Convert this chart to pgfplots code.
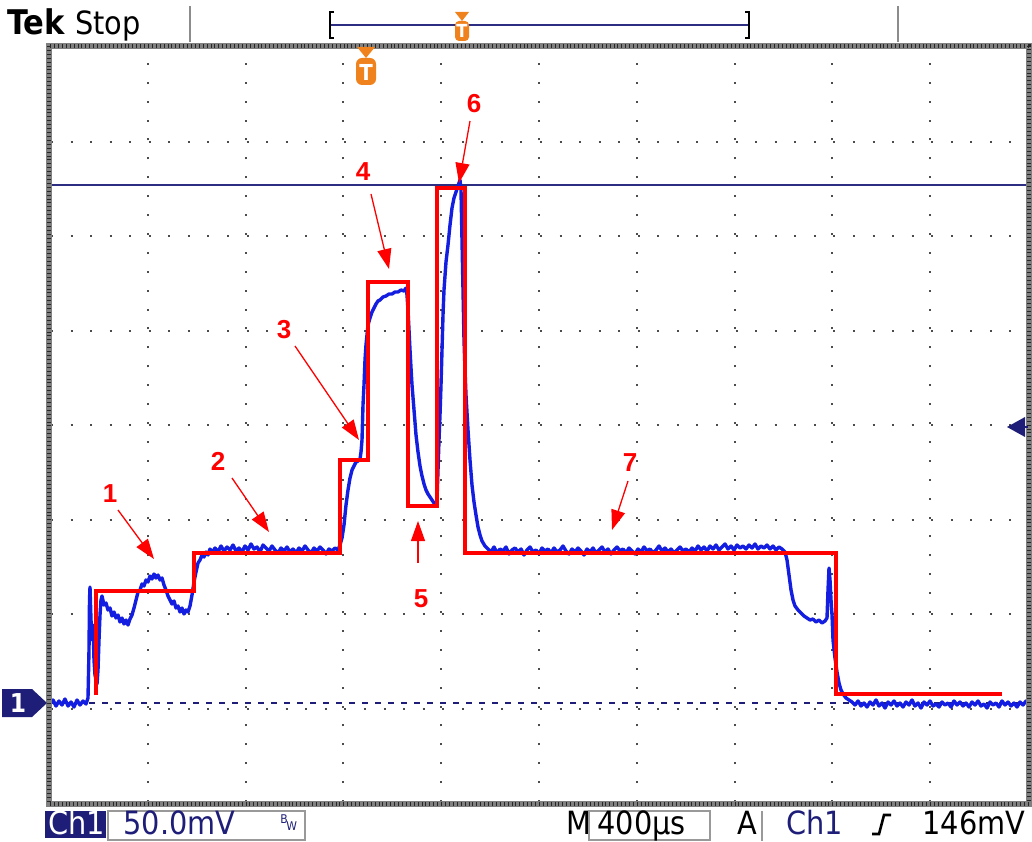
\documentclass[border=0pt]{standalone}
\usepackage{pgfplots}
\pgfplotsset{compat=1.18}
\usepackage{pgfplotstable}
\usetikzlibrary{arrows.meta}
\usepackage{fontspec}
\setmainfont{DejaVu Sans Condensed}
\newfontfamily\annfont{Liberation Sans}
\definecolor{trace}{RGB}{20,30,225}
\definecolor{navy}{RGB}{30,30,120}
\definecolor{cursor}{RGB}{45,45,130}
\definecolor{tekorange}{RGB}{240,130,30}
\definecolor{ann}{RGB}{255,0,0}

% blue trace, read in screen pixels (x right, y down)
\pgfplotstableread{
px py
48 702
50 704
53 700
56 706
59 701
62 705
65 699
68 706
71 702
74 707
77 700
80 705
83 701
86 704
88 698
89 650
89.5 600
90 587
91 620
92 640
93 625
94 660
95 675
97 684
98 670
99 640
100 615
101 600
102 596
104 605
106 603
108 610
110 608
112 616
114 612
116 618
118 615
120 622
122 618
124 624
126 620
128 625
130 619
132 615
134 608
136 600
138 592
140 590
142 584
144 586
146 580
148 582
150 576
152 579
154 574
156 578
158 575
160 580
162 578
164 585
166 590
168 596
170 600
172 604
174 601
176 608
178 606
180 612
182 608
184 614
186 610
188 612
190 606
192 595
194 582
196 572
198 563
200 560
202 555
204 557
206 552
208 555
210 549
212 553
215 548
218 552
221 546
224 551
227 547
230 550
233 545
236 551
239 548
242 552
245 546
248 550
251 544
254 549
257 547
260 552
263 545
266 548
269 551
272 546
275 550
278 553
281 548
284 551
287 547
290 552
293 549
296 553
299 548
302 551
305 546
308 550
311 553
314 548
317 551
320 547
323 550
326 554
329 549
332 551
335 548
338 550
340 545
342 538
344 525
346 505
348 490
350 478
352 470
354 466
356 462
358 461
360 459
361 452
362 440
363 405
364 385
365 360
366 345
367 335
368 325
370 318
372 312
374 308
376 304
378 301
380 300
383 297
386 296
389 294
392 294
395 292
398 292
401 290
404 291
406 288
407 295
408 310
409 330
410 350
411 368
412 385
414 410
416 435
418 452
420 466
422 476
424 484
426 490
428 494
430 497
432 500
434 503
436 505
437 500
438 470
439 440
440 415
441 385
442 350
443 315
444 290
446 262
448 245
450 225
452 208
454 198
456 192
458 186
460 180
461 190
462 240
463 290
464 340
465 370
466 395
468 430
470 460
472 485
474 502
476 515
478 527
480 535
482 541
485 546
488 549
491 552
494 547
497 553
500 549
503 551
506 547
509 554
512 550
515 548
518 552
521 549
524 555
527 550
530 547
533 552
536 550
539 554
542 548
545 551
548 549
551 553
554 548
557 552
560 550
563 546
566 551
569 554
572 549
575 552
578 548
581 551
584 555
587 549
590 552
593 548
596 553
599 550
602 547
605 552
608 549
611 554
614 550
617 547
620 551
623 549
626 553
629 548
632 551
635 554
638 549
641 552
644 547
647 551
650 549
653 553
656 550
659 546
662 551
665 548
668 552
671 549
674 553
677 550
680 547
683 551
686 549
689 552
692 548
695 551
698 546
701 550
704 547
707 551
710 546
713 549
716 545
719 550
722 547
725 544
728 549
731 546
734 550
737 545
740 548
743 546
746 549
749 545
752 548
755 544
758 549
761 546
764 548
767 545
770 549
773 546
776 550
779 547
782 549
785 552
787 560
789 575
791 590
793 600
795 606
798 610
801 613
804 616
807 618
810 620
813 619
816 622
819 620
822 623
825 621
827 618
828 590
829 568
830 580
831 600
832 615
833 640
835 658
837 672
839 683
841 690
843 694
846 698
849 700
852 702
855 705
858 701
861 706
864 703
867 707
870 702
873 705
876 700
879 706
882 703
885 708
888 702
891 705
894 701
897 706
900 703
903 707
906 702
909 705
912 700
915 706
918 703
921 708
924 702
927 705
930 701
933 706
936 704
939 707
942 702
945 705
948 703
951 707
954 701
957 705
960 702
963 706
966 703
969 707
972 702
975 705
978 701
981 706
984 704
987 708
990 702
993 705
996 703
999 707
1002 701
1005 705
1008 702
1011 706
1014 703
1017 707
1020 702
1023 705
1026 701
1028 704
}\bluetrace

% red step overlay, screen pixels
\pgfplotstableread{
px py
96 695
96 591
194 591
194 553
340 553
340 460
368 460
368 282
408 282
408 506
437 506
437 188
465 188
465 553
836 553
836 694
1002 694
}\redstep

\begin{document}
\begin{tikzpicture}
\useasboundingbox (-25pt,-19pt) rectangle (491pt,401.5pt);
\begin{axis}[
  at={(0,0)}, anchor=south west,
  scale only axis, width=489pt, height=378pt,
  xmin=0, xmax=10, ymin=0, ymax=8,
  xtick={1,...,9}, ytick={1,...,7},
  xticklabels={}, yticklabels={},
  major tick length=0pt,
  axis line style={draw=none},
  grid=major,
  major x grid style={line width=1pt, dash pattern=on 1pt off 8.45pt, dash phase=8.95pt, color=black!70},
  major y grid style={line width=1pt, dash pattern=on 1pt off 8.78pt, dash phase=9.28pt, color=black!70},
  clip=false,
]
% cursor and ground reference
\addplot[cursor, line width=0.9pt] coordinates {(0,6.540) (10,6.540)};
\addplot[navy, line width=0.9pt, dash pattern=on 3pt off 3.5pt] coordinates {(0,1.058) (10,1.058)};
% scope trace
\addplot[trace, line width=1.7pt, line join=round] table[x expr=(\thisrow{px}-50)/97.8, y expr=(803-\thisrow{py})/94.5] {\bluetrace};
% red step overlay
\addplot[ann, line width=2.1pt, line join=miter] table[x expr=(\thisrow{px}-50)/97.8, y expr=(803-\thisrow{py})/94.5] {\redstep};
\end{axis}

\begin{scope}[x=0.5pt, y=-0.5pt, shift={(-25pt,401.5pt)}]
% frame
\draw[line width=3pt, black!50] (49,46) rectangle (1029,804);
\draw[line width=2pt, black!85, dash pattern=on 0.5pt off 1.456pt] (49,46) rectangle (1029,804);
% top bar
\node[anchor=base west, inner sep=0pt, font=\fontsize{17}{17}\selectfont\bfseries] at (7,35) {Tek};
\node[anchor=base west, inner sep=0pt, font=\fontsize{16}{16}\selectfont] at (75,35) {Stop};
\draw[black!45, line width=0.6pt] (190,6) -- (190,42);
\draw[black!45, line width=0.6pt] (898,6) -- (898,42);
\draw[cursor, line width=1pt] (331,25) -- (748,25);
\draw[black, line width=0.8pt] (334,12) -- (330,12) -- (330,38) -- (334,38);
\draw[black, line width=0.8pt] (745,12) -- (749,12) -- (749,38) -- (745,38);
\fill[tekorange] (455,12) -- (469,12) -- (462,21) -- cycle;
\fill[tekorange, rounded corners=2pt] (455,21) rectangle (469,41);
\node[white, font=\fontsize{9}{9}\selectfont\bfseries, inner sep=0pt] at (462,31) {T};
% trigger position marker
\fill[tekorange] (357,47) -- (375,47) -- (366,58) -- cycle;
\fill[tekorange, rounded corners=3pt] (356,58) rectangle (376,85);
\node[white, font=\fontsize{11}{11}\selectfont\bfseries, inner sep=0pt] at (366,72) {T};
% channel ground marker
\fill[navy] (2,689) -- (32,689) -- (47,703) -- (32,717) -- (2,717) -- cycle;
\node[white, font=\fontsize{13}{13}\selectfont\bfseries, inner sep=0pt] at (18,703) {1};
% trigger level arrow
\fill[navy] (1007,427) -- (1025,417) -- (1025,437) -- cycle;
\draw[navy, line width=1pt] (1015,427) -- (1028,427);
% annotations
\begin{scope}[ann, line width=0.65pt, -{Triangle[length=10pt,width=7pt]}]
\draw (118,510) -- (154,559);
\draw (232,478) -- (269,532);
\draw (295,346) -- (359,440);
\draw (371,194) -- (389,269);
\draw (418,563) -- (418,521);
\draw (470,121) -- (459,183);
\draw (628,481) -- (612,530);
\end{scope}
\begin{scope}[every node/.style={ann, font=\annfont\fontsize{13}{13}\selectfont\bfseries, inner sep=0pt}]
\node at (110,494) {1};
\node at (218,461) {2};
\node at (284,330) {3};
\node at (363,172) {4};
\node at (421,599) {5};
\node at (474,104) {6};
\node at (630,463) {7};
\end{scope}
% bottom status bar
\fill[navy] (45,811) rectangle (106,838);
\node[anchor=base west, inner sep=0pt, white, font=\fontsize{16}{16}\selectfont] at (48,834) {Ch1};
\draw[black!40, line width=0.6pt] (108,811) rectangle (305,840);
\node[anchor=base west, inner sep=0pt, navy, font=\fontsize{16}{16}\selectfont] at (123,834) {50.0mV};
\node[anchor=base west, inner sep=0pt, navy, font=\fontsize{6}{6}\selectfont] at (280,823) {B};
\node[anchor=base west, inner sep=0pt, navy, font=\fontsize{6}{6}\selectfont] at (286,830) {W};
\node[anchor=base west, inner sep=0pt, font=\fontsize{16}{16}\selectfont] at (566,834) {M};
\draw[black!40, line width=0.6pt] (589,811) rectangle (710,840);
\node[anchor=base west, inner sep=0pt, font=\fontsize{16}{16}\selectfont] at (597,834) {400µs};
\node[anchor=base west, inner sep=0pt, font=\fontsize{16}{16}\selectfont] at (737,834) {A};
\draw[black!40, line width=0.6pt] (762,811) -- (762,841);
\node[anchor=base west, inner sep=0pt, navy, font=\fontsize{16}{16}\selectfont] at (786,834) {Ch1};
\draw[black, line width=1.3pt] (872,834) -- (879,834) -- (884,815) -- (891,815);
\node[anchor=base west, inner sep=0pt, font=\fontsize{16}{16}\selectfont] at (922,834) {146mV};
\end{scope}
\end{tikzpicture}
\end{document}
